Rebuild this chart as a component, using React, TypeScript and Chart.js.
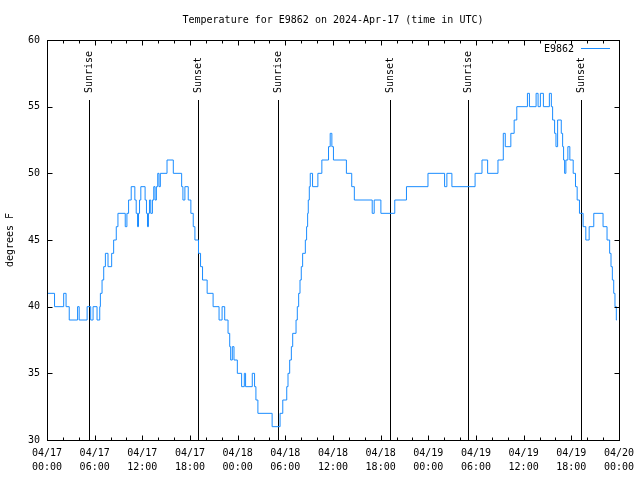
import { useEffect, useRef } from "react";
import { Chart, registerables } from "chart.js";

Chart.register(...registerables);

const TITLE = "Temperature for E9862 on 2024-Apr-17 (time in UTC)";
const SERIES_LABEL = "E9862";
const Y_TITLE = "degrees F";

// hours since 2024-04-17 00:00 UTC at which the reading changes, and the new reading (°F)
const hours = [
  0.1, 0.95, 2.1, 2.4, 2.8, 3.85, 4.05, 5.05, 5.5, 5.8, 6.3, 6.64, 6.72, 6.93, 7.14, 7.35, 7.68, 8.14,
  8.39, 8.72, 8.93, 9.85, 10.06, 10.27, 10.6, 11.06, 11.23, 11.4, 11.52, 11.65, 11.81, 12.35, 12.52,
  12.65, 12.77, 12.9, 13.06, 13.27, 13.44, 13.6, 13.77, 13.94, 14.1, 14.27, 15.11, 15.9, 16.95, 17.11,
  17.36, 17.78, 18.11, 18.41, 18.62, 19.07, 19.33, 19.58, 20.16, 20.91, 21.66, 22.04, 22.37, 22.79,
  23.0, 23.12, 23.33, 23.54, 23.96, 24.5, 24.84, 25.0, 25.84, 26.13, 26.3, 26.55, 28.34, 29.34, 29.68,
  30.18, 30.34, 30.55, 30.76, 30.93, 31.35, 31.51, 31.68, 31.85, 32.01, 32.18, 32.52, 32.68, 32.81,
  32.89, 33.02, 33.14, 33.43, 34.1, 34.6, 35.44, 35.65, 35.86, 36.06, 37.69, 38.36, 38.69, 40.94,
  41.19, 42.03, 43.78, 45.25, 47.96, 50.05, 50.34, 50.97, 53.89, 54.76, 55.47, 56.77, 57.44, 57.69,
  58.39, 58.81, 59.14, 60.48, 60.73, 61.57, 61.82, 62.11, 62.49, 63.24, 63.49, 63.65, 63.9, 64.07,
  64.28, 64.74, 64.91, 65.03, 65.16, 65.32, 65.57, 65.82, 66.24, 66.53, 66.74, 67.03, 67.49, 67.83,
  68.25, 68.83, 70.0, 70.5, 70.83, 71.0, 71.17, 71.34, 71.5, 71.67, 71.75,
];
const tempsF = [
  41, 40, 41, 40, 39, 40, 39, 40, 39, 40, 39, 40, 41, 42, 43, 44, 43, 44,
  45, 46, 47, 46, 47, 48, 49, 48, 47, 46, 47, 48, 49, 48, 47,
  46, 47, 48, 47, 48, 49, 48, 49, 50, 49, 50, 51, 50, 49, 48,
  49, 48, 47, 46, 45, 44, 43, 42, 41, 40, 39, 40, 39, 38,
  37, 36, 37, 36, 35, 34, 35, 34, 35, 34, 33, 32, 31, 32, 33,
  34, 35, 36, 37, 38, 39, 40, 41, 42, 43, 44, 45, 46, 47,
  48, 49, 50, 49, 50, 51, 52, 53, 52, 51, 50, 49, 48, 47,
  48, 47, 48, 49, 50, 49, 50, 49, 50, 51, 50, 51, 53, 52,
  53, 54, 55, 56, 55, 56, 55, 56, 55, 56, 55, 54, 53, 52,
  54, 53, 52, 51, 50, 51, 52, 51, 50, 49, 48, 47, 46, 45,
  46, 47, 46, 45, 44, 43, 42, 41, 40, 39, 39,
];

const sunHours = [5.23, 19.07, 29.1, 43.15, 53.06, 67.23];
const sunLabels = ["Sunrise", "Sunset", "Sunrise", "Sunset", "Sunrise", "Sunset"];

const xTickDates = ["04/17", "04/17", "04/17", "04/17", "04/18", "04/18", "04/18", "04/18", "04/19", "04/19", "04/19", "04/19", "04/20"];
const xTickTimes = ["00:00", "06:00", "12:00", "18:00", "00:00", "06:00", "12:00", "18:00", "00:00", "06:00", "12:00", "18:00", "00:00"];
const yTickValues = [30, 35, 40, 45, 50, 55, 60];

const FONT = "'DejaVu Sans Mono', 'Liberation Mono', monospace";
const LINE_COLOR = "#1a8cff";

const decorPlugin = {
  id: "decor",
  beforeDatasetsDraw(chart: any) {
    const { ctx, chartArea, scales } = chart;
    ctx.save();
    ctx.strokeStyle = "#000";
    ctx.lineWidth = 1;
    ctx.fillStyle = "#000";
    ctx.font = `10px ${FONT}`;
    sunHours.forEach((h, i) => {
      const x = Math.round(scales.x.getPixelForValue(h)) + 0.5;
      ctx.beginPath();
      ctx.moveTo(x, 100);
      ctx.lineTo(x, chartArea.bottom);
      ctx.stroke();
      ctx.save();
      ctx.translate(x, 93);
      ctx.rotate(-Math.PI / 2);
      ctx.textAlign = "left";
      ctx.textBaseline = "middle";
      ctx.fillText(sunLabels[i], 0, 0);
      ctx.restore();
    });
    ctx.restore();
  },
  afterDraw(chart: any) {
    const { ctx, chartArea, scales } = chart;
    const { left, right, top, bottom } = chartArea;
    ctx.save();
    ctx.strokeStyle = "#000";
    ctx.lineWidth = 1;
    const L = Math.round(left) + 0.5;
    const R = Math.round(right) + 0.5;
    const T = Math.round(top) + 0.5;
    const B = Math.round(bottom) + 0.5;
    ctx.strokeRect(L, T, R - L, B - T);
    ctx.beginPath();
    for (let h = 0; h <= 72; h += 2) {
      const x = Math.round(scales.x.getPixelForValue(h)) + 0.5;
      const len = h % 6 === 0 ? 5 : 3;
      ctx.moveTo(x, B);
      ctx.lineTo(x, B - len);
      ctx.moveTo(x, T);
      ctx.lineTo(x, T + len);
    }
    yTickValues.forEach((v) => {
      const y = Math.round(scales.y.getPixelForValue(v)) + 0.5;
      ctx.moveTo(L, y);
      ctx.lineTo(L + 5, y);
      ctx.moveTo(R, y);
      ctx.lineTo(R - 5, y);
    });
    ctx.stroke();

    ctx.fillStyle = "#000";
    ctx.font = `10px ${FONT}`;

    // title, centred over the plot area
    ctx.textAlign = "center";
    ctx.textBaseline = "middle";
    ctx.fillText(TITLE, (left + right) / 2, 20);

    // y-axis title
    ctx.save();
    ctx.translate(10, (top + bottom) / 2);
    ctx.rotate(-Math.PI / 2);
    ctx.textAlign = "center";
    ctx.textBaseline = "middle";
    ctx.fillText(Y_TITLE, 0, 0);
    ctx.restore();

    // legend
    ctx.textAlign = "right";
    ctx.textBaseline = "middle";
    ctx.fillText(chart.data.datasets[0].label, 574, 49);
    ctx.strokeStyle = LINE_COLOR;
    ctx.beginPath();
    ctx.moveTo(581, 48.5);
    ctx.lineTo(610, 48.5);
    ctx.stroke();
    ctx.restore();
  },
};

export default function App() {
  const canvasRef = useRef<HTMLCanvasElement | null>(null);

  useEffect(() => {
    document.body.style.margin = "0";
    const canvas = canvasRef.current;
    if (!canvas) return;
    const points = hours.map((h, i) => ({ x: h, y: tempsF[i] }));
    const chart = new Chart(canvas, {
      type: "line",
      data: {
        datasets: [
          {
            label: SERIES_LABEL,
            data: points,
            borderColor: LINE_COLOR,
            backgroundColor: LINE_COLOR,
            borderWidth: 1,
            pointRadius: 0,
            stepped: "before",
            fill: false,
          },
        ],
      },
      options: {
        animation: false,
        responsive: false,
        devicePixelRatio: 1,
        layout: { padding: { left: 0, right: 19, top: 40, bottom: 0 } },
        plugins: {
          legend: { display: false },
          tooltip: { enabled: false },
          title: { display: false },
        },
        scales: {
          x: {
            type: "linear",
            min: 0,
            max: 72,
            grid: { display: false, drawTicks: false },
            border: { display: false },
            ticks: {
              stepSize: 6,
              autoSkip: false,
              maxRotation: 0,
              padding: 6,
              color: "#000",
              font: { family: FONT, size: 10, lineHeight: 1.4 },
              callback: (v: any) => {
                const i = Math.round(Number(v) / 6);
                return [xTickDates[i], xTickTimes[i]];
              },
            },
            afterFit: (s: any) => {
              s.height = 40;
            },
          },
          y: {
            min: 30,
            max: 60,
            grid: { display: false, drawTicks: false },
            border: { display: false },
            ticks: {
              stepSize: 5,
              padding: 7,
              color: "#000",
              font: { family: FONT, size: 10 },
              callback: (v: any) => String(v),
            },
            afterFit: (s: any) => {
              s.width = 47;
            },
          },
        },
      },
      plugins: [decorPlugin],
    });
    return () => chart.destroy();
  }, []);

  return (
    <div style={{ position: "absolute", left: 0, top: 0, width: 640, height: 480 }}>
      <canvas ref={canvasRef} width={640} height={480} />
    </div>
  );
}
